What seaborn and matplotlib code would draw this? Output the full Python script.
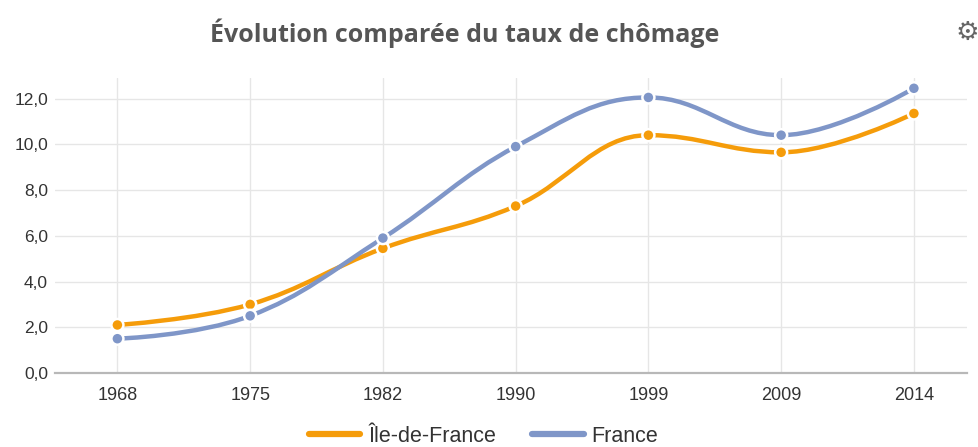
import numpy as np
import pandas as pd
import matplotlib
matplotlib.use("Agg")
import matplotlib.pyplot as plt
import seaborn as sns
from matplotlib.path import Path
from matplotlib.patches import PathPatch
from matplotlib.lines import Line2D
from matplotlib.ticker import FuncFormatter

years = ["1968", "1975", "1982", "1990", "1999", "2009", "2014"]
idf = [2.1, 3.0, 5.45, 7.3, 10.4, 9.65, 11.35]
france = [1.5, 2.5, 5.9, 9.9, 12.05, 10.4, 12.45]
series_names = ["Île-de-France", "France"]
colors = {"Île-de-France": "#F59C0A", "France": "#7F96C8"}
yticks = [0, 2, 4, 6, 8, 10, 12]

sns.set_theme(style="white")
plt.rcParams["font.family"] = ["Liberation Sans", "DejaVu Sans"]

df = pd.DataFrame({
    "pos": list(range(len(years))) * 2,
    "value": idf + france,
    "serie": [series_names[0]] * len(years) + [series_names[1]] * len(years),
})

fig = plt.figure(figsize=(9.79, 4.47), dpi=100)
ax = fig.add_axes([55 / 979, 1 - 373 / 447, (967 - 55) / 979, (373 - 78) / 447])


def spline_path(xs, ys, smoothing=1.5):
    n = len(xs)
    verts = [(xs[0], ys[0])]
    codes = [Path.MOVETO]
    conts = []
    denom = smoothing + 1
    for i in range(n):
        if i == 0 or i == n - 1:
            conts.append(((xs[i], ys[i]), (xs[i], ys[i])))
            continue
        x, y = xs[i], ys[i]
        px, py = xs[i - 1], ys[i - 1]
        nx, ny = xs[i + 1], ys[i + 1]
        lcx = (smoothing * x + px) / denom
        lcy = (smoothing * y + py) / denom
        rcx = (smoothing * x + nx) / denom
        rcy = (smoothing * y + ny) / denom
        if rcx != lcx:
            corr = ((rcy - lcy) * (rcx - x)) / (rcx - lcx) + y - rcy
            lcy += corr
            rcy += corr
        if lcy > max(py, y):
            lcy = max(py, y); rcy = 2 * y - lcy
        elif lcy < min(py, y):
            lcy = min(py, y); rcy = 2 * y - lcy
        if rcy > max(y, ny):
            rcy = max(y, ny); lcy = 2 * y - rcy
        elif rcy < min(y, ny):
            rcy = min(y, ny); lcy = 2 * y - rcy
        conts.append(((lcx, lcy), (rcx, rcy)))
    for i in range(1, n):
        verts += [conts[i - 1][1], conts[i][0], (xs[i], ys[i])]
        codes += [Path.CURVE4] * 3
    return Path(verts, codes)


xs = list(range(len(years)))
for name, vals in zip(series_names, [idf, france]):
    ax.add_patch(PathPatch(spline_path(xs, vals), facecolor="none",
                           edgecolor=colors[name], lw=3.2, zorder=3,
                           capstyle="round", joinstyle="round"))

sns.scatterplot(data=df, x="pos", y="value", hue="serie", palette=colors,
                s=75, edgecolor="white", linewidth=1.8, zorder=4,
                legend=False, ax=ax)

ax.set_xlim(-0.47, 6.4)
ax.set_ylim(0, 12.9)
ax.set_xticks(xs)
ax.set_xticklabels(years)
ax.set_yticks(yticks)
ax.yaxis.set_major_formatter(FuncFormatter(lambda v, p: f"{v:.1f}".replace(".", ",")))
ax.set_xlabel("")
ax.set_ylabel("")

ax.grid(True, color="#e6e6e6", lw=1.0)
ax.set_axisbelow(True)
for s in ["top", "right", "left"]:
    ax.spines[s].set_visible(False)
ax.spines["bottom"].set_color("#b8b8b8")
ax.spines["bottom"].set_linewidth(1.6)
ax.tick_params(axis="x", length=7, color="#e6e6e6", width=1.0, pad=3,
               labelsize=13, labelcolor="#333333")
ax.tick_params(axis="y", length=0, pad=5, labelsize=12.5, labelcolor="#333333")

fig.text(0.475, 0.926, "Évolution comparée du taux de chômage",
         ha="center", va="center", fontsize=18, fontweight="bold",
         color="#555555", family=["Open Sans", "DejaVu Sans"])
fig.text(0.988, 0.926, "⚙", ha="center", va="center", fontsize=19,
         fontweight="bold", color="#666666", family=["DejaVu Sans"])

handles = [Line2D([0], [0], color=colors[n], lw=4.5) for n in series_names]
fig.legend(handles, series_names, loc="center", bbox_to_anchor=(0.494, 0.024),
           ncol=2, frameon=False, fontsize=15.5, handlelength=2.4,
           columnspacing=1.7, handletextpad=0.35, labelcolor="#333333",
           borderpad=0)

fig.savefig("out.png", dpi=100)
